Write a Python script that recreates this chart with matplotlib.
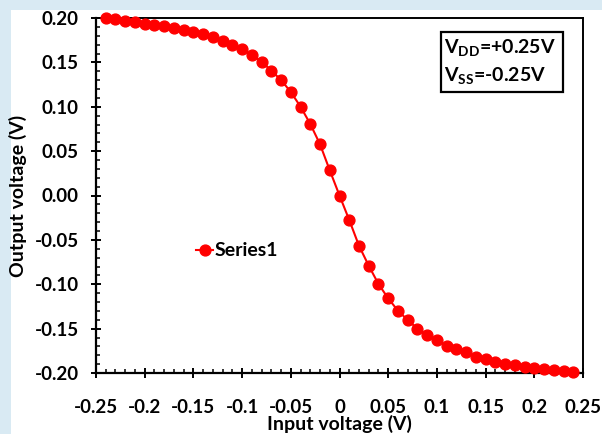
import matplotlib
matplotlib.use("Agg")
import matplotlib.pyplot as plt
from matplotlib.patches import Rectangle
from matplotlib.ticker import MultipleLocator, FixedLocator

# Transfer characteristic: input voltage sweep and measured output voltage
input_v = [-0.24, -0.23, -0.22, -0.21, -0.20, -0.19, -0.18, -0.17, -0.16, -0.15,
           -0.14, -0.13, -0.12, -0.11, -0.10, -0.09, -0.08, -0.07, -0.06, -0.05,
           -0.04, -0.03, -0.02, -0.01, 0.00, 0.01, 0.02, 0.03, 0.04, 0.05,
           0.06, 0.07, 0.08, 0.09, 0.10, 0.11, 0.12, 0.13, 0.14, 0.15,
           0.16, 0.17, 0.18, 0.19, 0.20, 0.21, 0.22, 0.23, 0.24]
output_v = [0.1997, 0.1985, 0.1970, 0.1952, 0.1936, 0.1925, 0.1913, 0.1884, 0.1865, 0.1846,
            0.1816, 0.1782, 0.1740, 0.1696, 0.1647, 0.1583, 0.1508, 0.1406, 0.1302, 0.1166,
            0.1001, 0.0806, 0.0577, 0.0284, 0.0000, -0.0276, -0.0566, -0.0791, -0.0997, -0.1159,
            -0.1298, -0.1403, -0.1501, -0.1575, -0.1632, -0.1692, -0.1730, -0.1769, -0.1816, -0.1846,
            -0.1873, -0.1895, -0.1913, -0.1932, -0.1947, -0.1958, -0.1966, -0.1974, -0.1989]

x_ticks = [-0.25, -0.2, -0.15, -0.1, -0.05, 0, 0.05, 0.1, 0.15, 0.2, 0.25]
x_labels = ["-0.25", "-0.2", "-0.15", "-0.1", "-0.05", "0", "0.05", "0.1", "0.15", "0.2", "0.25"]
y_ticks = [-0.20, -0.15, -0.10, -0.05, 0.00, 0.05, 0.10, 0.15, 0.20]
y_labels = ["-0.20", "-0.15", "-0.10", "-0.05", "0.00", "0.05", "0.10", "0.15", "0.20"]

plt.rcParams["font.family"] = ["Lato", "DejaVu Sans"]
plt.rcParams["font.weight"] = "bold"
plt.rcParams["mathtext.fontset"] = "custom"
plt.rcParams["mathtext.rm"] = "Lato:bold"
plt.rcParams["mathtext.bf"] = "Lato:bold"
plt.rcParams["mathtext.it"] = "Lato:bold"

W, H = 602, 434
fig = plt.figure(figsize=(W / 100, H / 100), dpi=100)
fig.patch.set_facecolor("#d9eaf3")

# white panel behind the chart
fig.add_artist(Rectangle((11 / W, 0), 1 - 11 / W, 1 - 10 / H,
                         transform=fig.transFigure, facecolor="white",
                         edgecolor="none", zorder=0))

left, right, top, bottom = 96, 583, 18, 373
ax = fig.add_axes([left / W, 1 - bottom / H, (right - left) / W, (bottom - top) / H])
ax.set_facecolor("white")

ax.plot(input_v, output_v, color="#ff0000", lw=1.5, marker="o", ms=7.8,
        mec="#ff0000", mfc="#ff0000", label="Series1", zorder=3, clip_on=False)

ax.set_xlim(-0.25, 0.25)
ax.set_ylim(-0.20, 0.20)

ax.xaxis.set_major_locator(FixedLocator(x_ticks))
ax.set_xticklabels(x_labels)
ax.yaxis.set_major_locator(FixedLocator(y_ticks))
ax.set_yticklabels(y_labels)
ax.xaxis.set_minor_locator(MultipleLocator(0.01))
ax.yaxis.set_minor_locator(MultipleLocator(0.01))

for s in ["top", "right"]:
    ax.spines[s].set_linewidth(1.4)
for s in ["left", "bottom"]:
    ax.spines[s].set_linewidth(1.6)

ax.tick_params(axis="both", which="major", direction="inout", length=7.5, width=1.4,
               labelsize=13.5, colors="black")
ax.tick_params(axis="y", which="major", pad=8.5)
ax.tick_params(axis="x", which="major", pad=15)
ax.tick_params(axis="both", which="minor", direction="in", length=3.2, width=1.1)
ax.tick_params(top=False, right=False, which="both")
for lab in ax.get_xticklabels() + ax.get_yticklabels():
    lab.set_fontweight("bold")

ax.set_xlabel("Input voltage (V)", fontsize=14, fontweight="bold", va="center")
ax.set_ylabel("Output voltage (V)", fontsize=14, fontweight="bold", va="center")
ax.xaxis.set_label_coords(0.5, (bottom - 424) / (bottom - top))
ax.yaxis.set_label_coords((18 - left) / (right - left), 0.5)

leg = ax.legend(loc="center left", bbox_to_anchor=(0.205, 0.344), frameon=False,
                borderaxespad=0, borderpad=0, handlelength=0.9, handletextpad=0.05,
                fontsize=14, markerscale=1.0)
for t in leg.get_texts():
    t.set_fontweight("bold")

# supply-voltage annotation box
bx0, bx1, by0, by1 = 441, 563, 32, 92
fig.add_artist(Rectangle((bx0 / W, 1 - by1 / H), (bx1 - bx0) / W, (by1 - by0) / H,
                         transform=fig.transFigure, facecolor="white",
                         edgecolor="black", lw=1.6, zorder=5))
fig.text(444 / W, 1 - 48 / H, r"V$_{\mathrm{DD}}$=+0.25V", fontsize=14,
         fontweight="bold", va="center", ha="left", zorder=6)
fig.text(444 / W, 1 - 75 / H, r"V$_{\mathrm{SS}}$=-0.25V", fontsize=14,
         fontweight="bold", va="center", ha="left", zorder=6)

fig.savefig("out.png", dpi=100, facecolor=fig.get_facecolor())
